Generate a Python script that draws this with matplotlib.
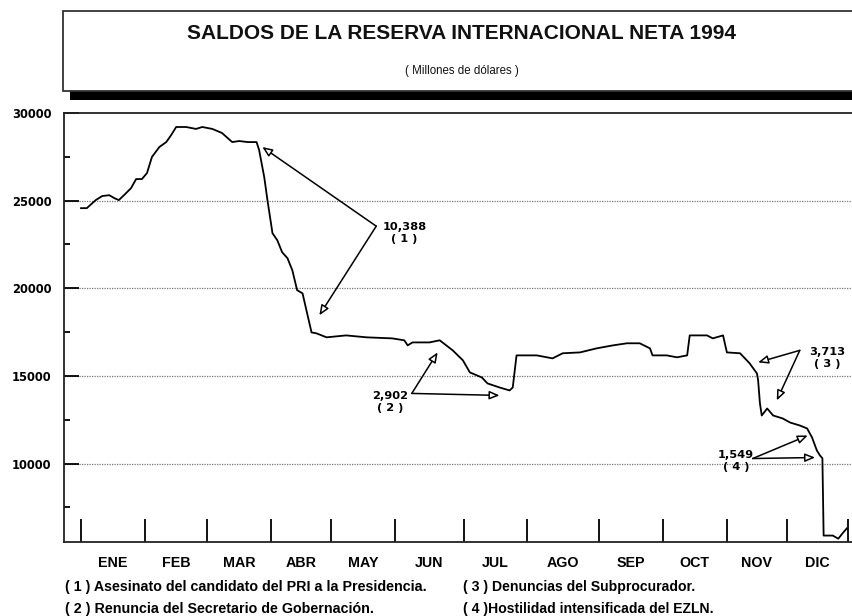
import numpy as np
import matplotlib
matplotlib.use("Agg")
import matplotlib.pyplot as plt
from matplotlib.patches import Rectangle
from matplotlib.ticker import MultipleLocator, FixedLocator, NullFormatter, FixedFormatter

plt.rcParams["font.family"] = ["Liberation Sans", "DejaVu Sans"]

# posición en meses (0 = inicio de enero, 12 = fin de diciembre)
mes = [0.00, 0.09, 0.23, 0.33, 0.44, 0.52, 0.59, 0.67, 0.78, 0.86, 0.95,
       1.03, 1.11, 1.23, 1.34, 1.42, 1.50, 1.66, 1.82, 1.92, 2.08, 2.23,
       2.39, 2.50, 2.63, 2.77, 2.81, 2.89, 2.94, 3.02, 3.10, 3.18, 3.27,
       3.35, 3.43, 3.52, 3.67, 3.75, 3.92, 4.23, 4.55, 4.95, 5.13, 5.18,
       5.25, 5.50, 5.65, 5.84, 5.99, 6.10, 6.29, 6.38, 6.57, 6.73, 6.78,
       6.84, 6.89, 7.14, 7.36, 7.50, 7.74, 7.97, 8.22, 8.44, 8.64, 8.80,
       8.84, 9.06, 9.22, 9.38, 9.42, 9.69, 9.78, 9.94, 10.00, 10.22, 10.30,
       10.38, 10.50, 10.52, 10.55, 10.58, 10.67, 10.77, 10.93, 11.05, 11.21,
       11.33, 11.41, 11.49, 11.54, 11.58, 11.60, 11.75, 11.84, 11.92, 11.98]
reserva = [24570, 24570, 25030, 25260, 25310, 25140, 25030, 25310, 25710, 26230, 26230,
           26570, 27490, 28060, 28340, 28740, 29200, 29200, 29090, 29200, 29090, 28860,
           28340, 28400, 28340, 28340, 27890, 26340, 25030, 23140, 22740, 22060, 21710,
           21030, 19890, 19710, 17480, 17430, 17200, 17310, 17200, 17140, 17030, 16740,
           16910, 16910, 17030, 16460, 15890, 15200, 14910, 14570, 14340, 14170, 14340,
           16170, 16170, 16170, 16000, 16290, 16340, 16570, 16740, 16860, 16860, 16570,
           16170, 16170, 16060, 16170, 17310, 17310, 17140, 17310, 16340, 16290, 16000,
           15710, 15140, 14740, 13430, 12740, 13140, 12740, 12570, 12340, 12170,
           12000, 11490, 10740, 10460, 10300, 5890, 5890, 5710, 6060, 6300]

meses = ["ENE", "FEB", "MAR", "ABR", "MAY", "JUN", "JUL", "AGO", "SEP", "OCT", "NOV", "DIC"]

# ancho relativo de cada mes en el eje original (días hábiles, irregular)
ancho_mes = [64, 62, 64, 60, 64, 68, 63, 72, 64, 64, 60, 61]

# anotaciones: texto, posición del texto, vértice, puntas de flecha
notas = ["10,388\n( 1 )", "2,902\n( 2 )", "3,713\n( 3 )", "1,549\n( 4 )"]
notas_txt = [(5.13, 23150), (4.92, 13490), (11.66, 16000), (10.15, 10170)]
notas_vertice = [(4.70, 23543), (5.24, 14000), (11.21, 16457), (10.43, 10286)]
notas_puntas = [[(2.86, 28057), (3.80, 18457)],
                [(5.62, 16343), (6.57, 13886)],
                [(10.52, 15771), (10.83, 13600)],
                [(11.34, 11600), (11.46, 10343)]]

pies = ["( 1 ) Asesinato del candidato del PRI a la Presidencia.",
        "( 2 ) Renuncia del Secretario de Gobernación.",
        "( 3 ) Denuncias del Subprocurador.",
        "( 4 )Hostilidad intensificada del EZLN."]

NUM = ["DejaVu Sans"]

# escala x por tramos: cada mes ocupa su ancho propio
_m = np.arange(-1, 14)
_w = np.concatenate([[0], np.cumsum([64] + ancho_mes + [61])]).astype(float)


def fwd(x):
    return np.interp(x, _m, _w)


def inv(x):
    return np.interp(x, _w, _m)


fig = plt.figure(figsize=(8.52, 6.16), dpi=100)

# --- recuadro del título con sombra ---------------------------------------
fig.add_artist(Rectangle((0.082, 0.8377), 0.93, 0.0145, transform=fig.transFigure,
                         fc="black", ec="none"))
fig.add_artist(Rectangle((0.0739, 0.852), 0.94, 0.130, transform=fig.transFigure,
                         fc="white", ec="#333333", lw=1.3))
fig.text(0.542, 0.946, "SALDOS DE LA RESERVA INTERNACIONAL NETA 1994",
         ha="center", va="center", fontsize=15, fontweight="bold", color="#111111")
fig.text(0.542, 0.884, "( Millones de dólares )", ha="center", va="center",
         fontsize=8.3, color="#111111")

# --- gráfica ---------------------------------------------------------------
ax = fig.add_axes([0.0751, 0.1207, 0.925, 0.6959])
ax.set_xscale("function", functions=(fwd, inv))
ax.plot(mes, reserva, color="black", lw=1.3, zorder=3)

ax.set_xlim(-0.266, 12.066)
ax.set_ylim(5543, 30000)

for s in ["left", "bottom", "top"]:
    ax.spines[s].set_linewidth(1.3)
    ax.spines[s].set_color("#222222")
ax.spines["right"].set_visible(False)

ax.yaxis.set_major_locator(MultipleLocator(5000))
ax.yaxis.set_minor_locator(FixedLocator([7500, 12500, 17500, 22500, 27500]))
ax.tick_params(axis="y", which="major", direction="in", length=11, width=1.3, pad=9)
ax.tick_params(axis="y", which="minor", direction="in", length=4, width=1.3)
for lab in ax.get_yticklabels():
    lab.set_fontweight("bold")
    lab.set_family(NUM)
    lab.set_fontsize(8.3)

ax.xaxis.set_major_locator(FixedLocator(range(13)))
ax.xaxis.set_major_formatter(NullFormatter())
ax.xaxis.set_minor_locator(FixedLocator([i + 0.5 for i in range(12)]))
ax.xaxis.set_minor_formatter(FixedFormatter(meses))
ax.tick_params(axis="x", which="major", direction="in", length=16.5, width=1.3)
ax.tick_params(axis="x", which="minor", length=0, pad=10, labelsize=10.3)
for lab in ax.xaxis.get_minorticklabels():
    lab.set_fontweight("bold")

for g in [10000, 15000, 20000, 25000]:
    ax.axhline(g, color="#777777", lw=0.9, ls=(0, (1, 1)), zorder=1)

for txt, pos, vert, puntas in zip(notas, notas_txt, notas_vertice, notas_puntas):
    ax.text(pos[0], pos[1], txt, ha="center", va="center", fontsize=8.2,
            fontweight="bold", family=NUM, linespacing=1.25, zorder=4)
    for p in puntas:
        ax.annotate("", xy=p, xytext=vert,
                    arrowprops=dict(arrowstyle="-|>,head_length=0.6,head_width=0.25",
                                    fc="white", ec="black", lw=1.1,
                                    shrinkA=0, shrinkB=0), zorder=4)

# --- notas al pie ------------------------------------------------------------
fig.text(0.0763, 0.047, pies[0], ha="left", va="center", fontsize=10.3, fontweight="bold")
fig.text(0.0763, 0.012, pies[1], ha="left", va="center", fontsize=10.3, fontweight="bold")
fig.text(0.543, 0.047, pies[2], ha="left", va="center", fontsize=10.1, fontweight="bold")
fig.text(0.543, 0.012, pies[3], ha="left", va="center", fontsize=10.1, fontweight="bold")

fig.savefig("out.png", dpi=100)
